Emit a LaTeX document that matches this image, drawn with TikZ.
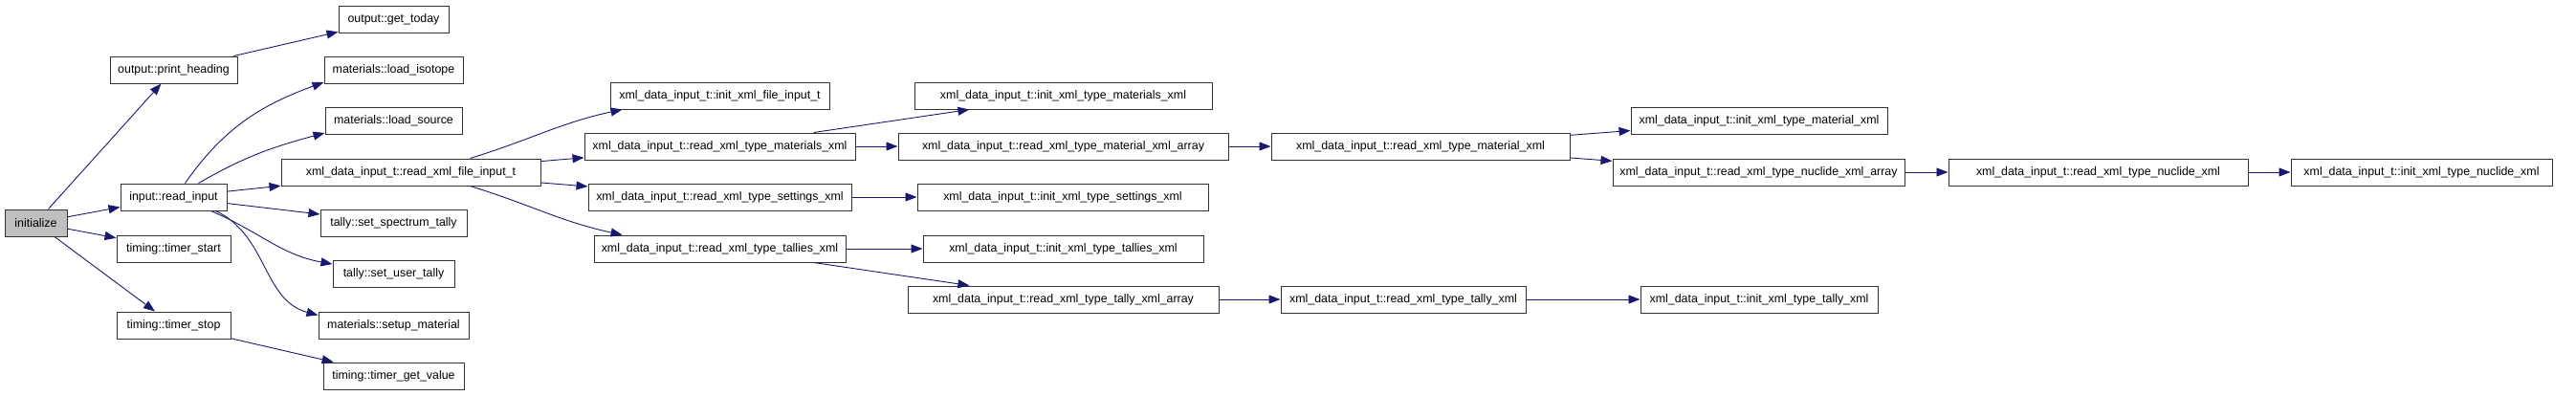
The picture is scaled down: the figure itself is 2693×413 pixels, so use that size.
\documentclass[tikz,border=0pt]{standalone}
\usepackage{fontspec}
\setmainfont{Liberation Sans}
\definecolor{edgeblue}{RGB}{25,25,112}
\definecolor{rootgray}{RGB}{191,191,191}
\usetikzlibrary{arrows.meta,positioning}

\begin{document}
\begin{tikzpicture}[x=1pt, y=1pt,
    fn/.style={rectangle, draw=black!80, line width=1pt, minimum height=28pt, inner sep=0pt,
      font=\fontsize{12.4}{14}\selectfont},
    root/.style={fn, fill=rootgray},
    callarrow/.style={draw=edgeblue, line width=0.9pt, -{Triangle[length=12pt,width=9pt]}}
  ]
    \useasboundingbox (0,0) rectangle (2693,-413);

    % Column 1 -- caller
    \node[root, minimum width=65pt]  (init) at (37.5,-233) {initialize};

    % Column 2
    \node[fn, minimum width=133pt] (printhead)  at (181.5,-73)  {output::print\_heading};
    \node[fn, minimum width=111pt] (readinput)  at (181.5,-206) {input::read\_input};
    \node[fn, minimum width=119pt] (timerstart) at (181.5,-260) {timing::timer\_start};
    \node[fn, minimum width=119pt] (timerstop)  at (181.5,-340) {timing::timer\_stop};

    % Column 3
    \node[fn, minimum width=115pt] (gettoday)  at (411.5,-20)  {output::get\_today};
    \node[fn, minimum width=145pt] (loadiso)   at (411.5,-73)  {materials::load\_isotope};
    \node[fn, minimum width=143pt] (loadsrc)   at (411.5,-126.5) {materials::load\_source};
    \node[fn, minimum width=271pt] (readfile)  at (429.5,-180) {xml\_data\_input\_t::read\_xml\_file\_input\_t};
    \node[fn, minimum width=153pt] (spectrum)  at (411.5,-233) {tally::set\_spectrum\_tally};
    \node[fn, minimum width=127pt] (usertally) at (411.5,-286.5) {tally::set\_user\_tally};
    \node[fn, minimum width=157pt] (setupmat)  at (411.5,-340) {materials::setup\_material};
    \node[fn, minimum width=147pt] (getvalue)  at (411.5,-393) {timing::timer\_get\_value};

    % Column 4
    \node[fn, minimum width=229pt] (initfile)     at (752.5,-100) {xml\_data\_input\_t::init\_xml\_file\_input\_t};
    \node[fn, minimum width=283pt] (readmats)     at (752.5,-153) {xml\_data\_input\_t::read\_xml\_type\_materials\_xml};
    \node[fn, minimum width=275pt] (readsettings) at (752.5,-206) {xml\_data\_input\_t::read\_xml\_type\_settings\_xml};
    \node[fn, minimum width=263pt] (readtallies)  at (752.5,-260) {xml\_data\_input\_t::read\_xml\_type\_tallies\_xml};

    % Column 5
    \node[fn, minimum width=311pt] (initmats)       at (1111.5,-100) {xml\_data\_input\_t::init\_xml\_type\_materials\_xml};
    \node[fn, minimum width=345pt] (readmatarray)   at (1111.5,-153) {xml\_data\_input\_t::read\_xml\_type\_material\_xml\_array};
    \node[fn, minimum width=304pt] (initsettings)   at (1111,-206)   {xml\_data\_input\_t::init\_xml\_type\_settings\_xml};
    \node[fn, minimum width=293pt] (inittallies)    at (1111.5,-260) {xml\_data\_input\_t::init\_xml\_type\_tallies\_xml};
    \node[fn, minimum width=325pt] (readtallyarray) at (1111.5,-313) {xml\_data\_input\_t::read\_xml\_type\_tally\_xml\_array};

    % Column 6
    \node[fn, minimum width=312pt] (readmat)   at (1485,-153) {xml\_data\_input\_t::read\_xml\_type\_material\_xml};
    \node[fn, minimum width=256pt] (readtally) at (1467,-313) {xml\_data\_input\_t::read\_xml\_type\_tally\_xml};

    % Column 7
    \node[fn, minimum width=268pt] (initmat)      at (1839,-126.5) {xml\_data\_input\_t::init\_xml\_type\_material\_xml};
    \node[fn, minimum width=305pt] (readnucarray) at (1838.5,-180) {xml\_data\_input\_t::read\_xml\_type\_nuclide\_xml\_array};
    \node[fn, minimum width=248pt] (inittally)    at (1839,-313)   {xml\_data\_input\_t::init\_xml\_type\_tally\_xml};

    % Columns 8 and 9
    \node[fn, minimum width=313pt] (readnuc) at (2193.5,-180) {xml\_data\_input\_t::read\_xml\_type\_nuclide\_xml};
    \node[fn, minimum width=273pt] (initnuc) at (2531.5,-180) {xml\_data\_input\_t::init\_xml\_type\_nuclide\_xml};

    % Calls from initialize
    \draw[callarrow] (init) -- (printhead);
    \draw[callarrow] (init) -- (readinput);
    \draw[callarrow] (init) -- (timerstart);
    \draw[callarrow] (init) -- (timerstop);
    \draw[callarrow] (printhead) -- (gettoday);
    \draw[callarrow] (timerstop) -- (getvalue);

    % Calls from input::read_input
    \draw[callarrow] ([xshift=12pt]readinput.north) to[out=55,in=200] ([yshift=1.5pt]loadiso.south west);
    \draw[callarrow] ([xshift=26pt]readinput.north) to[out=30,in=195] ([yshift=2pt]loadsrc.south west);
    \draw[callarrow] (readinput) -- (readfile);
    \draw[callarrow] (readinput) -- (spectrum);
    \draw[callarrow] ([xshift=39pt]readinput.south) to[out=-23,in=170] ([yshift=-4pt]usertally.north west);
    \draw[callarrow] ([xshift=44pt]readinput.south) to[out=-25,in=165] ([yshift=-4pt]setupmat.north west);

    % Calls from the xml reader
    \draw[callarrow] ([xshift=62pt]readfile.north) to[out=17,in=192] ([xshift=13pt]initfile.south west);
    \draw[callarrow] (readfile) -- (readmats);
    \draw[callarrow] (readfile) -- (readsettings);
    \draw[callarrow] ([xshift=62pt]readfile.south) to[out=-17,in=168] ([xshift=30pt]readtallies.north west);
    \draw[callarrow] (readmats) -- (initmats);
    \draw[callarrow] (readmats) -- (readmatarray);
    \draw[callarrow] (readsettings) -- (initsettings);
    \draw[callarrow] (readtallies) -- (inittallies);
    \draw[callarrow] (readtallies) -- (readtallyarray);
    \draw[callarrow] (readmatarray) -- (readmat);
    \draw[callarrow] (readmat) -- (initmat);
    \draw[callarrow] (readmat) -- (readnucarray);
    \draw[callarrow] (readtallyarray) -- (readtally);
    \draw[callarrow] (readtally) -- (inittally);
    \draw[callarrow] (readnucarray) -- (readnuc);
    \draw[callarrow] (readnuc) -- (initnuc);

\end{tikzpicture}
\end{document}
